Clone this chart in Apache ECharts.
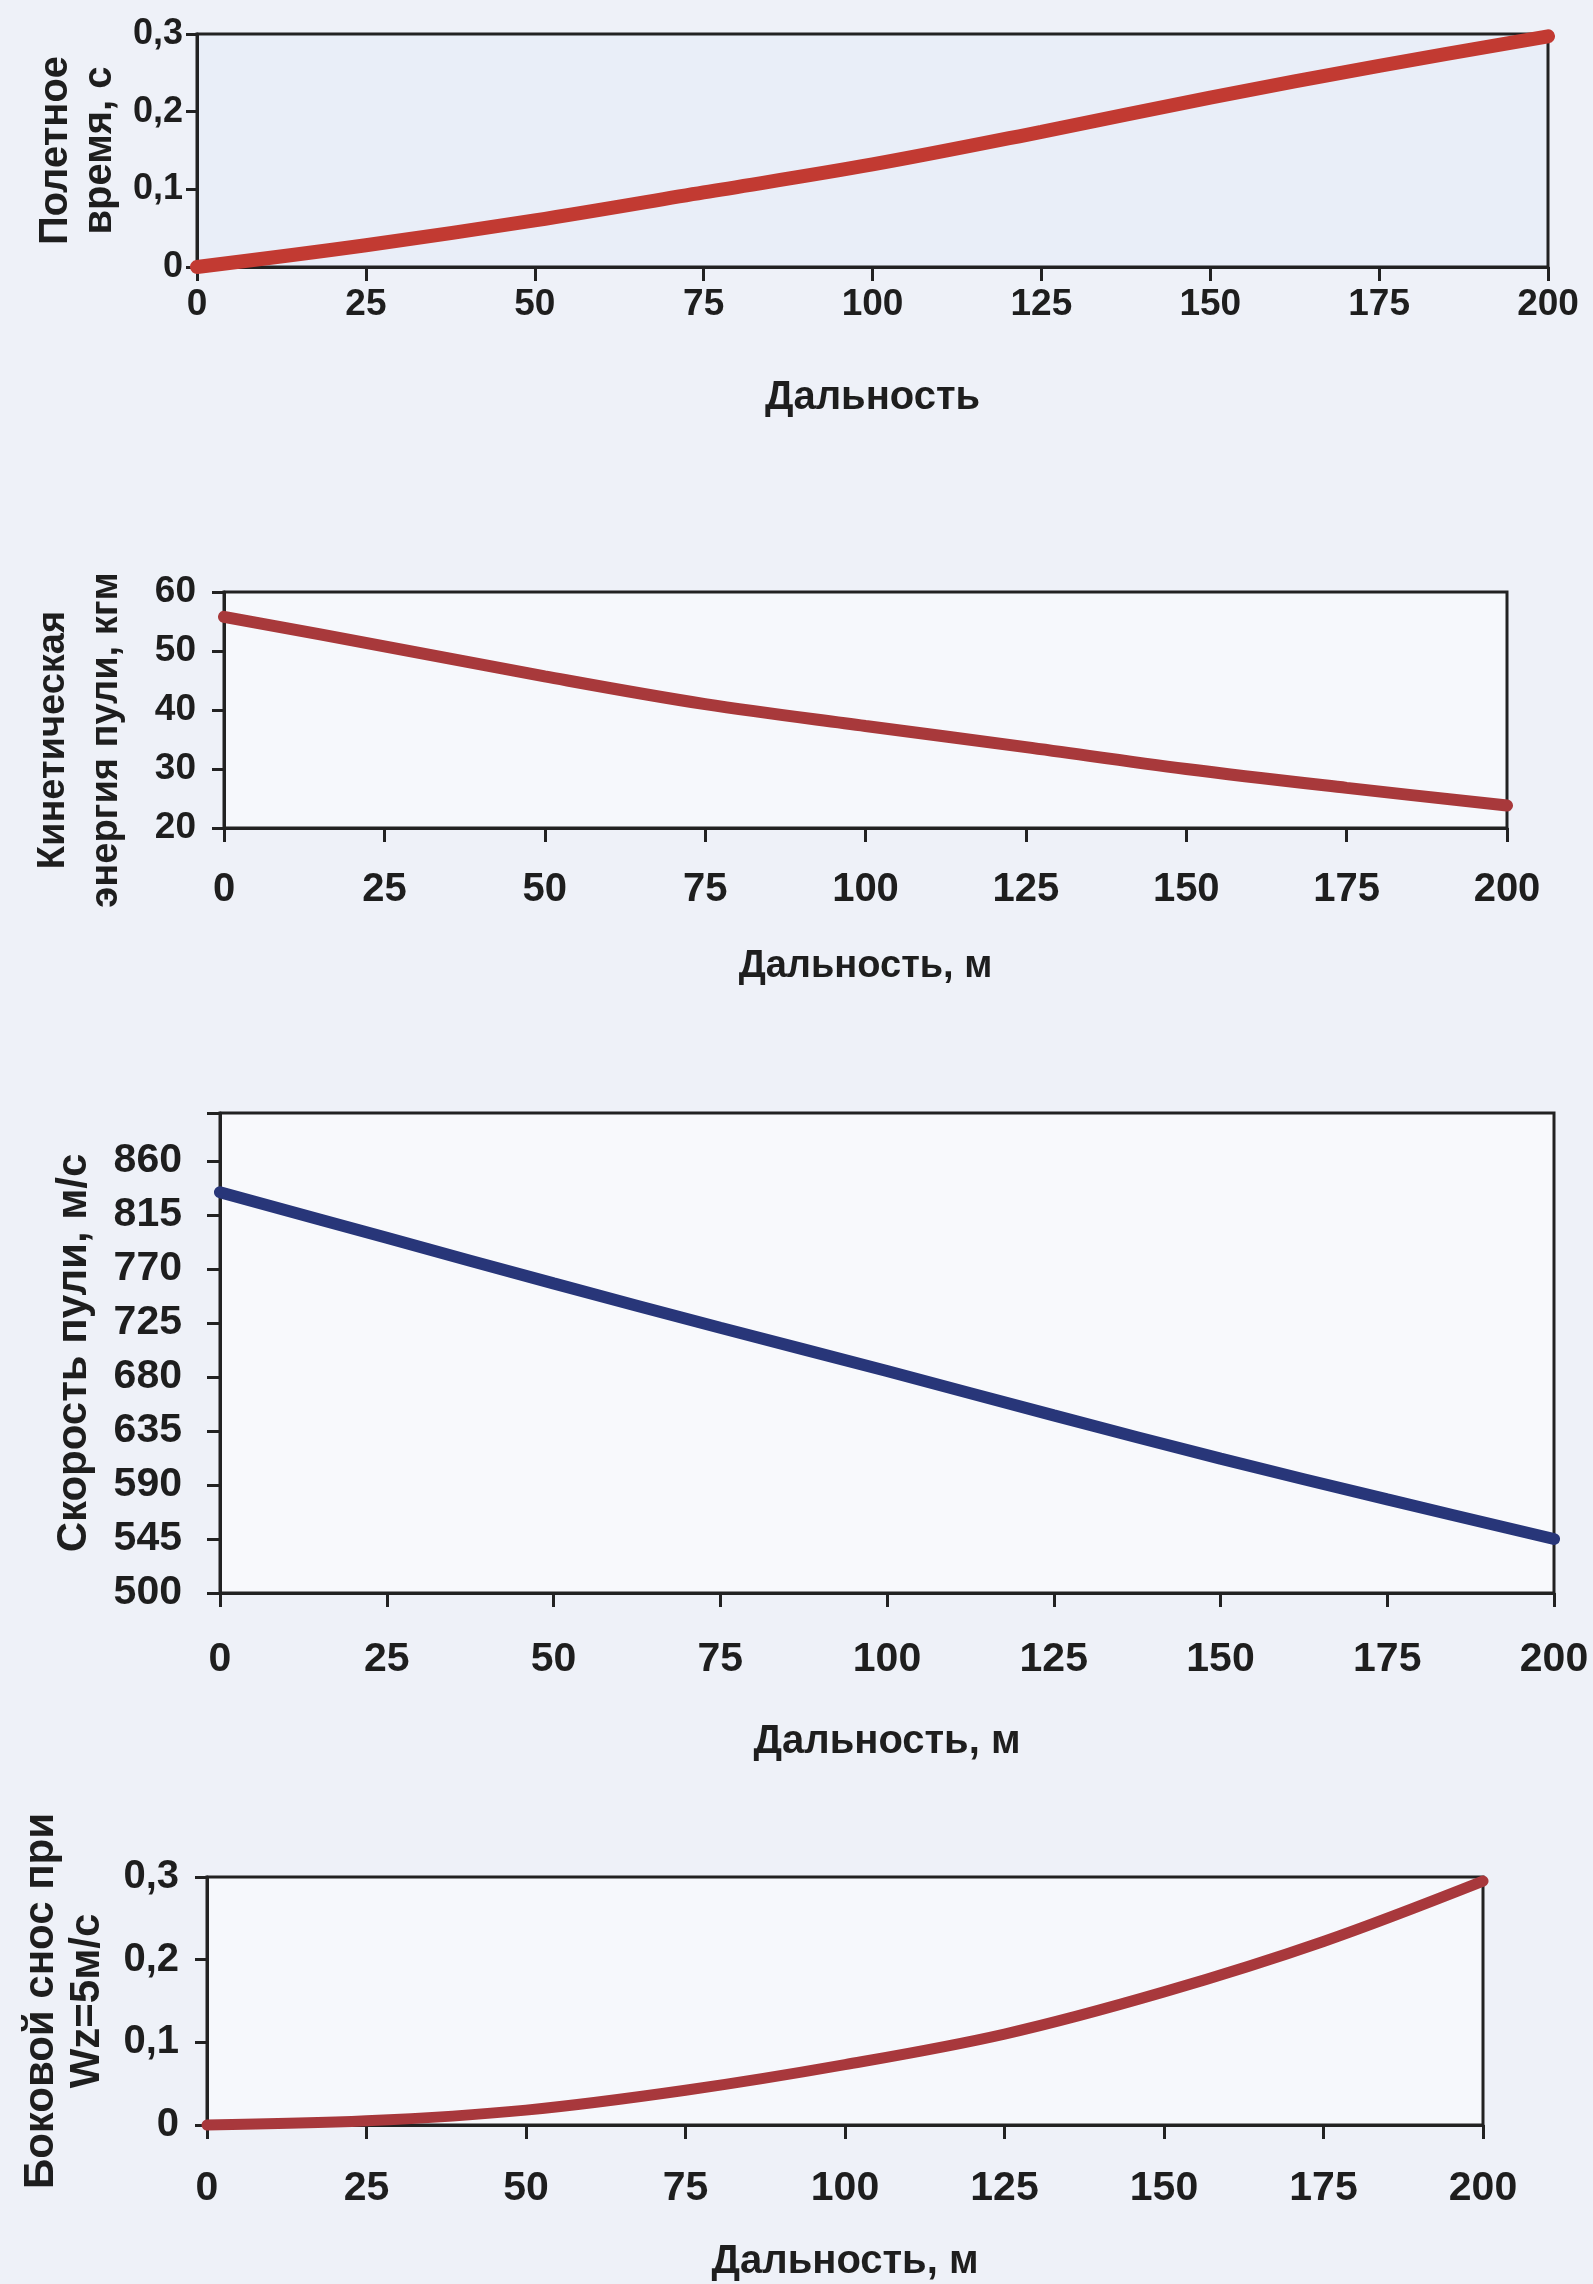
<!DOCTYPE html>
<html>
<head>
<meta charset="utf-8">
<script src="https://cdn.jsdelivr.net/npm/echarts@6/dist/echarts.min.js"></script>
<style>
  html, body { margin: 0; padding: 0; background: #eef1f8; }
  #chart { width: 1593px; height: 2284px; }
</style>
</head>
<body>
<div id="chart"></div>
<script>
// дальность, м
const distance = [0, 25, 50, 75, 100, 125, 150, 175, 200];
const distanceTicks = [0, 25, 50, 75, 100, 125, 150, 175, 200];

// полетное время, с
const flightTime = [0, 0.028, 0.06, 0.096, 0.132, 0.174, 0.218, 0.259, 0.297];
const timeTicks = [0, 0.1, 0.2, 0.3];

// кинетическая энергия, кгм
const kineticEnergy = [55.8, 50.8, 45.7, 41.0, 37.3, 33.7, 30.0, 26.8, 23.8];
const energyTicks = [20, 30, 40, 50, 60];

// скорость пули, м/с
const bulletSpeed = [834, 796, 758, 721, 685, 648, 612, 578, 545];
const speedTicks = [500, 545, 590, 635, 680, 725, 770, 815, 860];
const speedMax = 900;

// боковой снос при Wz=5 м/с
const sideDrift = [0, 0.005, 0.018, 0.042, 0.073, 0.11, 0.161, 0.222, 0.295];
const driftTicks = [0, 0.1, 0.2, 0.3];

const FONT = "'Liberation Sans', Arial, sans-serif";
const INK = "#1e1e1e";

const pairs = (ys) => distance.map((x, i) => [x, ys[i]]);
const comma = (v) => String(+v.toFixed(1)).replace(".", ",");

// поля построения
const grids = [
  { left: 197, top: 34, width: 1351, height: 233, backgroundColor: "#e9eef8" },
  { left: 224, top: 592, width: 1283, height: 236, backgroundColor: "#f6f8fc" },
  { left: 220, top: 1113, width: 1334, height: 480, backgroundColor: "#f8f9fc" },
  { left: 207, top: 1877, width: 1276, height: 248, backgroundColor: "#f6f8fc" },
].map((g) => ({ ...g, show: true, borderColor: "#222", borderWidth: 3 }));

function xAxis(idx, name, size, margin, nameGap, nameSize) {
  return {
    type: "value",
    gridIndex: idx,
    min: distanceTicks[0],
    max: distanceTicks[distanceTicks.length - 1],
    interval: distanceTicks[1] - distanceTicks[0],
    splitLine: { show: false },
    axisLine: { show: true, lineStyle: { color: "#222", width: 3 } },
    axisTick: { show: true, length: 14, lineStyle: { color: "#222", width: 3 } },
    axisLabel: { color: INK, fontFamily: FONT, fontWeight: "bold", fontSize: size, margin: margin },
    name: name,
    nameLocation: "middle",
    nameGap: nameGap,
    nameTextStyle: { color: INK, fontFamily: FONT, fontWeight: "bold", fontSize: nameSize, lineHeight: nameSize },
  };
}

function yAxis(idx, ticks, max, name, size, margin, tick, nameGap, nameSize, lineH, fmt, pad) {
  return {
    type: "value",
    gridIndex: idx,
    min: ticks[0],
    max: max,
    interval: ticks[1] - ticks[0],
    splitLine: { show: false },
    axisLine: { show: true, lineStyle: { color: "#222", width: 3 } },
    axisTick: { show: true, length: tick, lineStyle: { color: "#222", width: 3 } },
    axisLabel: {
      color: INK, fontFamily: FONT, fontWeight: "bold", fontSize: size, margin: margin,
      formatter: fmt,
    },
    name: name,
    nameLocation: "middle",
    nameRotate: 90,
    nameGap: nameGap,
    nameTextStyle: {
      color: INK, fontFamily: FONT, fontWeight: "bold", fontSize: nameSize, lineHeight: lineH,
      padding: pad || 0,
    },
  };
}

function line(idx, ys, color, width) {
  return {
    type: "line",
    xAxisIndex: idx,
    yAxisIndex: idx,
    data: pairs(ys),
    smooth: 0.35,
    symbol: "none",
    clip: false,
    lineStyle: { color: color, width: width, cap: "round" },
  };
}

const chart = echarts.init(document.getElementById("chart"));
chart.setOption({
  backgroundColor: "#eef1f8",
  animation: false,
  grid: grids,
  xAxis: [
    xAxis(0, "Дальность", 37, 19, 111, 40),
    xAxis(1, "Дальность, м", 40, 42, 120, 38),
    xAxis(2, "Дальность, м", 41, 46, 129, 40),
    xAxis(3, "Дальность, м", 41, 43, 117, 40),
  ],
  yAxis: [
    yAxis(0, timeTicks, timeTicks[timeTicks.length - 1], "Полетное\nвремя, с", 36, 14, 11, 65, 40, 44,
      (v) => comma(v)),
    yAxis(1, energyTicks, energyTicks[energyTicks.length - 1], "Кинетическая\nэнергия пули, кгм", 37, 28, 12, 91, 38, 53,
      (v) => String(v), [0, 60, 0, 0]),
    yAxis(2, speedTicks, speedMax, "Скорость пули, м/с", 41, 38, 13, 123, 42, 46,
      (v) => (v > speedTicks[speedTicks.length - 1] ? "" : String(v))),
    yAxis(3, driftTicks, driftTicks[driftTicks.length - 1], "Боковой снос при\nWz=5м/с", 40, 28, 12, 97, 42, 46,
      (v) => comma(v)),
  ],
  series: [
    line(0, flightTime, "#c23a32", 14),
    line(1, kineticEnergy, "#a8393b", 12),
    line(2, bulletSpeed, "#283679", 12),
    line(3, sideDrift, "#a8383c", 11),
  ],
});
</script>
</body>
</html>
